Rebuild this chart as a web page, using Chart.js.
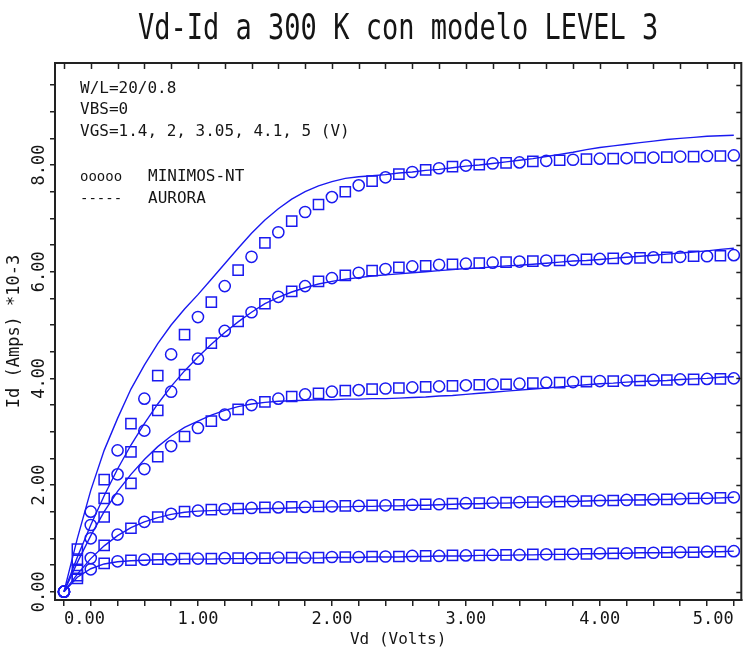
<!DOCTYPE html>
<html>
<head>
<meta charset="utf-8">
<script src="https://cdn.jsdelivr.net/npm/chart.js@4.4.1/dist/chart.umd.min.js"></script>
<style>
  html, body { margin: 0; padding: 0; background: #ffffff; }
  canvas { display: block; }
</style>
</head>
<body>
<canvas id="chart" width="750" height="650"></canvas>
<script>
// Drain voltage sweep (V)
const vd = [
  0.0, 0.1, 0.2, 0.3, 0.4, 0.5, 0.6, 0.7, 0.8, 0.9,
  1.0, 1.1, 1.2, 1.3, 1.4, 1.5, 1.6, 1.7, 1.8, 1.9,
  2.0, 2.1, 2.2, 2.3, 2.4, 2.5, 2.6, 2.7, 2.8, 2.9,
  3.0, 3.1, 3.2, 3.3, 3.4, 3.5, 3.6, 3.7, 3.8, 3.9,
  4.0, 4.1, 4.2, 4.3, 4.4, 4.5, 4.6, 4.7, 4.8, 4.9,
  5.0
];

// Drain current (mA), MINIMOS-NT simulation
const minimosVgs5 = [
  0, 0.80, 1.50, 2.10, 2.65, 3.15, 3.62, 4.05, 4.45, 4.82,
  5.15, 5.43, 5.73, 6.03, 6.28, 6.54, 6.74, 6.95, 7.12, 7.26,
  7.40, 7.50, 7.62, 7.70, 7.77, 7.83, 7.87, 7.91, 7.94, 7.97,
  7.99, 8.01, 8.03, 8.04, 8.05, 8.07, 8.08, 8.09, 8.10, 8.11,
  8.12, 8.12, 8.13, 8.14, 8.14, 8.15, 8.16, 8.16, 8.17, 8.17,
  8.18
];
const minimosVgs41 = [
  0, 0.59, 1.25, 1.75, 2.20, 2.62, 3.02, 3.40, 3.75, 4.07,
  4.37, 4.66, 4.89, 5.07, 5.24, 5.40, 5.53, 5.63, 5.73, 5.82,
  5.88, 5.93, 5.98, 6.02, 6.05, 6.08, 6.10, 6.11, 6.13, 6.14,
  6.15, 6.16, 6.17, 6.18, 6.19, 6.20, 6.21, 6.21, 6.22, 6.23,
  6.24, 6.25, 6.25, 6.26, 6.27, 6.27, 6.28, 6.29, 6.29, 6.30,
  6.31
];
const minimosVgs305 = [
  0, 0.42, 1.00, 1.40, 1.73, 2.03, 2.30, 2.53, 2.73, 2.91,
  3.07, 3.20, 3.32, 3.42, 3.50, 3.56, 3.62, 3.66, 3.70, 3.72,
  3.75, 3.77, 3.78, 3.80, 3.81, 3.82, 3.83, 3.84, 3.85, 3.86,
  3.87, 3.88, 3.89, 3.89, 3.90, 3.91, 3.92, 3.92, 3.93, 3.94,
  3.95, 3.95, 3.96, 3.96, 3.97, 3.97, 3.98, 3.98, 3.99, 3.99,
  4.00
];
const minimosVgs2 = [
  0, 0.30, 0.63, 0.87, 1.07, 1.19, 1.31, 1.40, 1.46, 1.50,
  1.52, 1.54, 1.55, 1.56, 1.57, 1.58, 1.58, 1.59, 1.59, 1.60,
  1.60, 1.61, 1.61, 1.62, 1.62, 1.63, 1.63, 1.64, 1.64, 1.65,
  1.66, 1.66, 1.67, 1.67, 1.68, 1.68, 1.69, 1.69, 1.70, 1.70,
  1.71, 1.71, 1.72, 1.72, 1.73, 1.73, 1.74, 1.75, 1.75, 1.76,
  1.77
];
const minimosVgs14 = [
  0, 0.25, 0.42, 0.53, 0.57, 0.59, 0.60, 0.61, 0.61, 0.62,
  0.62, 0.62, 0.63, 0.63, 0.63, 0.63, 0.64, 0.64, 0.64, 0.64,
  0.65, 0.65, 0.65, 0.66, 0.66, 0.66, 0.67, 0.67, 0.67, 0.68,
  0.68, 0.68, 0.69, 0.69, 0.69, 0.70, 0.70, 0.70, 0.71, 0.71,
  0.72, 0.72, 0.72, 0.73, 0.73, 0.74, 0.74, 0.74, 0.75, 0.75,
  0.76
];

// Drain current (mA), AURORA fit of the LEVEL 3 model
const auroraVgs5 = [
  0, 1.00, 1.90, 2.65, 3.25, 3.80, 4.25, 4.65, 5.00, 5.30,
  5.57, 5.86, 6.15, 6.44, 6.72, 6.97, 7.18, 7.36, 7.50, 7.61,
  7.69, 7.75, 7.78, 7.80, 7.82, 7.85, 7.87, 7.90, 7.92, 7.95,
  7.98, 8.00, 8.03, 8.06, 8.09, 8.12, 8.16, 8.20, 8.24, 8.29,
  8.33, 8.36, 8.39, 8.42, 8.45, 8.48, 8.50, 8.52, 8.54, 8.55,
  8.56
];
const auroraVgs41 = [
  0, 0.65, 1.25, 1.80, 2.30, 2.75, 3.15, 3.52, 3.85, 4.14,
  4.40, 4.64, 4.86, 5.06, 5.24, 5.40, 5.52, 5.62, 5.70, 5.77,
  5.82, 5.86, 5.89, 5.92, 5.94, 5.96, 5.98, 6.00, 6.02, 6.04,
  6.06, 6.07, 6.09, 6.11, 6.12, 6.14, 6.16, 6.18, 6.20, 6.21,
  6.23, 6.25, 6.27, 6.29, 6.31, 6.33, 6.35, 6.37, 6.39, 6.42,
  6.44
];
const auroraVgs305 = [
  0, 0.55, 1.05, 1.50, 1.88, 2.20, 2.48, 2.72, 2.92, 3.08,
  3.20, 3.31, 3.40, 3.47, 3.52, 3.55, 3.57, 3.58, 3.59, 3.60,
  3.60, 3.61, 3.61, 3.62, 3.62, 3.63, 3.64, 3.65, 3.67, 3.68,
  3.70, 3.72, 3.74, 3.76, 3.78, 3.80, 3.82, 3.84, 3.86, 3.88,
  3.90, 3.91, 3.93, 3.94, 3.95, 3.96, 3.98, 3.99, 4.00, 4.02,
  4.03
];
const auroraVgs2 = [
  0, 0.33, 0.62, 0.86, 1.05, 1.20, 1.31, 1.39, 1.45, 1.49,
  1.51, 1.52, 1.53, 1.54, 1.55, 1.56, 1.56, 1.57, 1.58, 1.58,
  1.59, 1.59, 1.60, 1.60, 1.61, 1.61, 1.62, 1.62, 1.63, 1.64,
  1.65, 1.65, 1.66, 1.66, 1.67, 1.68, 1.68, 1.69, 1.69, 1.70,
  1.71, 1.71, 1.72, 1.72, 1.73, 1.73, 1.74, 1.75, 1.75, 1.76,
  1.77
];
const auroraVgs14 = [
  0, 0.27, 0.43, 0.52, 0.56, 0.58, 0.59, 0.60, 0.60, 0.61,
  0.61, 0.61, 0.62, 0.62, 0.62, 0.62, 0.63, 0.63, 0.63, 0.63,
  0.64, 0.64, 0.64, 0.65, 0.65, 0.65, 0.66, 0.66, 0.67, 0.67,
  0.67, 0.68, 0.68, 0.68, 0.69, 0.69, 0.70, 0.70, 0.70, 0.71,
  0.71, 0.72, 0.72, 0.73, 0.73, 0.73, 0.74, 0.74, 0.75, 0.75,
  0.76
];

const gateVoltages = ['1.4', '2', '3.05', '4.1', '5'];
const minimosSeries = [minimosVgs14, minimosVgs2, minimosVgs305, minimosVgs41, minimosVgs5];
const auroraSeries = [auroraVgs14, auroraVgs2, auroraVgs305, auroraVgs41, auroraVgs5];

// Axis ticks: every position gets a tick mark, only the majors get a label
const xTicks = [0, 0.2, 0.4, 0.6, 0.8, 1.0, 1.2, 1.4, 1.6, 1.8, 2.0, 2.2, 2.4, 2.6, 2.8,
                3.0, 3.2, 3.4, 3.6, 3.8, 4.0, 4.2, 4.4, 4.6, 4.8, 5.0];
const xLabelTicks = [0, 1, 2, 3, 4, 5];
const yTicks = [0, 0.5, 1.0, 1.5, 2.0, 2.5, 3.0, 3.5, 4.0, 4.5, 5.0, 5.5, 6.0, 6.5, 7.0,
                7.5, 8.0, 8.5, 9.0, 9.5];
const yLabelTicks = [0, 2, 4, 6, 8];

const plotTitle = 'Vd-Id a 300 K con modelo LEVEL 3';
const xTitle = 'Vd (Volts)';
const yTitle = 'Id (Amps) *10-3';
const infoLines = ['W/L=20/0.8', 'VBS=0', 'VGS=1.4, 2, 3.05, 4.1, 5 (V)'];
const legendRows = [
  { symbol: 'ooooo', label: 'MINIMOS-NT' },
  { symbol: '-----', label: 'AURORA' }
];

const MONO = '"DejaVu Sans Mono", "Liberation Mono", monospace';
const BLUE = '#1a1af0';
const INK = '#151515';

function majorLabel(majors) {
  return (v) => majors.some(m => Math.abs(m - v) < 1e-6) ? Number(v).toFixed(2) : '';
}

const datasets = [];
auroraSeries.forEach((ser, k) => {
  datasets.push({
    label: 'AURORA VGS=' + gateVoltages[k],
    data: vd.map((x, i) => ({ x, y: ser[i] })),
    showLine: true,
    borderColor: BLUE,
    backgroundColor: BLUE,
    borderWidth: 1.4,
    pointRadius: 0,
    fill: false,
    tension: 0
  });
});
minimosSeries.forEach((ser, k) => {
  datasets.push({
    label: 'MINIMOS-NT VGS=' + gateVoltages[k],
    data: vd.map((x, i) => ({ x, y: ser[i] })),
    showLine: false,
    borderColor: BLUE,
    backgroundColor: 'rgba(0,0,0,0)',
    pointBorderColor: BLUE,
    pointBackgroundColor: 'rgba(0,0,0,0)',
    pointBorderWidth: 1.5,
    pointStyle: (ctx) => (ctx.dataIndex % 2 ? 'rect' : 'circle'),
    pointRadius: (ctx) => (ctx.dataIndex % 2 ? 7.2 : 5.6)
  });
});

// Title, annotation block, and the inward ticks on the top and right edges
const decorations = {
  id: 'decorations',
  afterDraw(chart) {
    const { ctx, chartArea: a, scales } = chart;
    const xs = scales.x, ys = scales.y;
    ctx.save();

    // closing frame lines
    ctx.strokeStyle = '#222';
    ctx.lineWidth = 2;
    ctx.beginPath();
    ctx.moveTo(a.left - 1, a.top);
    ctx.lineTo(a.right, a.top);
    ctx.lineTo(a.right, a.bottom + 1);
    ctx.stroke();

    ctx.lineWidth = 1.5;
    ctx.beginPath();
    xs.ticks.forEach(t => {
      const px = Math.round(xs.getPixelForValue(t.value)) + 0.5;
      ctx.moveTo(px, a.top);
      ctx.lineTo(px, a.top + 6);
    });
    ys.ticks.forEach(t => {
      const py = Math.round(ys.getPixelForValue(t.value)) + 0.5;
      ctx.moveTo(a.right, py);
      ctx.lineTo(a.right - 5, py);
    });
    ctx.stroke();

    // chart title, narrow and tall
    ctx.fillStyle = INK;
    ctx.textAlign = 'center';
    ctx.textBaseline = 'middle';
    ctx.save();
    ctx.translate((a.left + a.right) / 2, 30);
    ctx.scale(0.75, 1);
    ctx.font = '36px ' + MONO;
    ctx.fillText(plotTitle, 0, 0);
    ctx.restore();

    // annotation block inside the plot
    ctx.textAlign = 'left';
    ctx.font = '16px ' + MONO;
    const infoY = [89, 110, 132];
    infoLines.forEach((s, i) => ctx.fillText(s, 80, infoY[i]));
    const legY = [177, 199];
    legendRows.forEach((row, i) => {
      ctx.font = '14px ' + MONO;
      ctx.fillText(row.symbol, 80, legY[i]);
      ctx.font = '16px ' + MONO;
      ctx.fillText(row.label, 148, legY[i]);
    });
    ctx.restore();
  }
};

new Chart(document.getElementById('chart'), {
  type: 'scatter',
  data: { datasets },
  options: {
    responsive: false,
    animation: false,
    events: [],
    layout: { padding: { top: 63, right: 6, left: 0, bottom: 0 } },
    plugins: {
      legend: { display: false },
      title: { display: false },
      tooltip: { enabled: false }
    },
    scales: {
      x: {
        type: 'linear',
        min: -0.067,
        max: 5.056,
        afterBuildTicks: (s) => { s.ticks = xTicks.map(v => ({ value: v })); },
        afterFit: (s) => { s.height = 50; s.paddingLeft = 0; s.paddingRight = 0; },
        ticks: {
          autoSkip: false,
          minRotation: 0,
          maxRotation: 0,
          align: 'inner',
          padding: 3,
          color: INK,
          font: { family: MONO, size: 17 },
          callback: majorLabel(xLabelTicks)
        },
        grid: { drawOnChartArea: false, drawTicks: true, tickLength: 6, color: '#222', lineWidth: 1.5 },
        border: { display: true, color: '#222', width: 2 },
        title: {
          display: true,
          text: xTitle,
          color: INK,
          font: { family: MONO, size: 16 },
          padding: { top: 0, bottom: 1 }
        }
      },
      y: {
        type: 'linear',
        min: -0.156,
        max: 9.914,
        afterBuildTicks: (s) => { s.ticks = yTicks.map(v => ({ value: v })); },
        afterFit: (s) => { s.width = 55; s.paddingTop = 0; s.paddingBottom = 0; },
        ticks: {
          autoSkip: false,
          minRotation: 90,
          maxRotation: 90,
          crossAlign: 'center',
          padding: -10,
          color: INK,
          font: { family: MONO, size: 17 },
          callback: majorLabel(yLabelTicks)
        },
        grid: { drawOnChartArea: false, drawTicks: true, tickLength: 5, color: '#222', lineWidth: 1.5 },
        border: { display: true, color: '#222', width: 2 },
        title: {
          display: true,
          text: yTitle,
          color: INK,
          font: { family: MONO, size: 17 },
          padding: { top: 4, bottom: 0 }
        }
      }
    }
  },
  plugins: [decorations]
});
</script>
</body>
</html>
